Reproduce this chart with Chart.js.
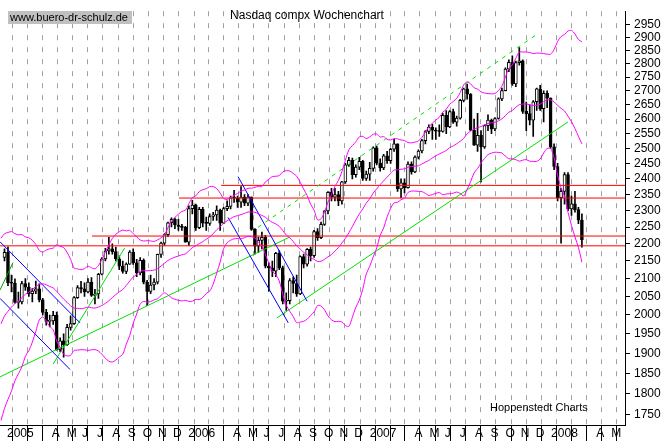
<!DOCTYPE html>
<html>
<head>
<meta charset="utf-8">
<script src="https://cdn.jsdelivr.net/npm/chart.js@4"></script>
<style>
  html, body { margin: 0; padding: 0; background: #fff; }
  #wrap { width: 671px; height: 441px; }
</style>
</head>
<body>
<div id="wrap"><canvas id="chart"></canvas></div>
<script>
// Weekly closes Aug 13 .. Dec 23 2004 (only used to warm up the Bollinger bands)
const closes2004 = [1757, 1838, 1862, 1844, 1894, 1910, 1880, 1942, 1919, 1911,
  1915, 1975, 2038, 2085, 2071, 2102, 2148, 2129, 2150, 2160];

// Weekly candles, first week ends Dec 31 2004, last week ends Mar 7 2008
const firstOpen = 2160;
const closes = [2175,
  2088, 2087, 2034, 2035, 2086, 2076, 2058, 2065, 2071, 2041, 2007, 1983, 1984,
  1999, 1909, 1932, 1922, 1967, 1977, 2047, 2075, 2071, 2063, 2090, 2053, 2057,
  2112, 2156, 2179, 2185, 2177, 2156, 2135, 2120, 2141, 2176, 2145, 2116, 2152,
  2090, 2064, 2082, 2090, 2169, 2202, 2227, 2263, 2273, 2256, 2252, 2249, 2205,
  2306, 2317, 2248, 2304, 2262, 2261, 2282, 2287, 2302, 2262, 2306, 2313, 2340,
  2339, 2326, 2342, 2323, 2342, 2243, 2193, 2210, 2219, 2135, 2130, 2121, 2172,
  2130, 2037, 2039, 2094, 2086, 2057, 2163, 2141, 2184, 2165, 2236, 2218, 2258,
  2299, 2357, 2342, 2350, 2330, 2390, 2445, 2460, 2413, 2438, 2457, 2401, 2415,
  2434, 2502, 2451, 2435, 2475, 2459, 2497, 2515, 2368, 2387, 2372, 2448, 2422,
  2471, 2491, 2526, 2557, 2572, 2562, 2558, 2557, 2613, 2573, 2626, 2589, 2603,
  2666, 2707, 2688, 2562, 2511, 2544, 2505, 2577, 2596, 2566, 2602, 2671, 2701,
  2780, 2805, 2725, 2804, 2811, 2627, 2619, 2596, 2661, 2707, 2636, 2691, 2674,
  2505, 2440, 2340, 2360, 2414, 2305, 2321, 2303, 2271, 2212];
const highs = [2185,
  2191, 2110, 2099, 2062, 2092, 2100, 2088, 2072, 2093, 2085, 2045, 2015, 2000,
  2010, 2008, 1940, 1950, 1975, 1998, 2050, 2080, 2092, 2088, 2100, 2103, 2070,
  2115, 2160, 2187, 2219, 2200, 2190, 2165, 2150, 2145, 2180, 2185, 2155, 2160,
  2156, 2095, 2110, 2100, 2170, 2205, 2230, 2265, 2278, 2277, 2273, 2258, 2252,
  2315, 2332, 2320, 2310, 2310, 2280, 2290, 2295, 2315, 2305, 2310, 2330, 2345,
  2363, 2345, 2375, 2350, 2350, 2343, 2245, 2220, 2235, 2225, 2145, 2150, 2175,
  2180, 2135, 2060, 2100, 2105, 2110, 2165, 2170, 2186, 2190, 2240, 2245, 2265,
  2300, 2359, 2370, 2370, 2360, 2392, 2450, 2470, 2468, 2445, 2470, 2460, 2425,
  2454, 2505, 2508, 2465, 2480, 2490, 2500, 2531, 2515, 2400, 2400, 2455, 2455,
  2475, 2495, 2530, 2560, 2580, 2582, 2570, 2580, 2620, 2630, 2630, 2635, 2610,
  2670, 2710, 2725, 2690, 2600, 2620, 2560, 2580, 2615, 2600, 2605, 2675, 2710,
  2785, 2815, 2830, 2810, 2861, 2815, 2660, 2650, 2665, 2710, 2720, 2700, 2700,
  2675, 2515, 2450, 2370, 2420, 2420, 2345, 2360, 2310, 2290];
const lows = [2150,
  2080, 2063, 2032, 2018, 2030, 2067, 2050, 2035, 2058, 2035, 2000, 1973, 1968,
  1975, 1908, 1904, 1890, 1920, 1960, 1975, 2045, 2060, 2050, 2060, 2050, 2030,
  2045, 2110, 2150, 2170, 2170, 2150, 2125, 2115, 2114, 2140, 2140, 2105, 2110,
  2085, 2025, 2058, 2068, 2085, 2160, 2195, 2222, 2250, 2245, 2240, 2240, 2205,
  2195, 2290, 2240, 2245, 2250, 2240, 2255, 2270, 2270, 2240, 2260, 2300, 2305,
  2325, 2310, 2310, 2315, 2315, 2240, 2170, 2175, 2185, 2130, 2065, 2105, 2105,
  2125, 2030, 2012, 2030, 2060, 2050, 2055, 2130, 2135, 2150, 2160, 2210, 2215,
  2255, 2290, 2330, 2330, 2315, 2320, 2385, 2440, 2400, 2405, 2430, 2395, 2395,
  2395, 2425, 2445, 2425, 2430, 2450, 2450, 2490, 2360, 2340, 2355, 2370, 2415,
  2420, 2465, 2485, 2515, 2550, 2530, 2530, 2540, 2555, 2550, 2570, 2585, 2575,
  2600, 2660, 2670, 2560, 2510, 2490, 2390, 2500, 2560, 2550, 2560, 2600, 2665,
  2700, 2770, 2720, 2715, 2795, 2620, 2560, 2580, 2540, 2630, 2630, 2590, 2640,
  2500, 2430, 2330, 2202, 2320, 2300, 2285, 2295, 2260, 2190];

// Support / resistance levels and where they start (days since Jan 1 2005)
const levels = [2379, 2339, 2223, 2194];
const levelStarts = [435, 350, 175, -10];

// Trend lines: [day1, value1, day2, value2]
const blueLines = [
  [-10, 2206, 151, 1979],
  [-10, 2045, 131, 1859],
  [469, 2407, 608, 2037],
  [449, 2279, 570, 1979]
];
const greenLines = [
  [-10, 2068, 16, 2145],
  [97, 1873, 241, 2188],
  [-10, 1841, 573, 2220],
  [547, 1992, 1133, 2590]
];
const dashedGreen = [509, 2249, 1073, 2916];

const yTicks = [1750, 1800, 1850, 1900, 1950, 2000, 2050, 2100, 2150, 2200, 2250,
  2300, 2350, 2400, 2450, 2500, 2550, 2600, 2650, 2700, 2750, 2800, 2850, 2900, 2950];
const monthLetters = ["", "F", "M", "A", "M", "J", "J", "A", "S", "O", "N", "D"];

// ---- derived stuff ----
const dayOf = (i) => -1 + 7 * i; // week i ends on Friday (Dec 31 2004 = day -1)
const opens = closes.map((c, i) => (i === 0 ? firstOpen : closes[i - 1]));

const wicks = closes.map((c, i) => ({ x: dayOf(i), y: [lows[i], highs[i]] }));
const bodies = closes.map((c, i) => ({ x: dayOf(i), y: [opens[i], c] }));
const bodyColors = closes.map((c, i) => (c >= opens[i] ? "#ffffff" : "#000000"));

// Bollinger bands 20 weeks, 2 sigma
const all = closes2004.concat(closes);
const mid = [], upper = [], lower = [];
for (let j = 19; j < all.length; j++) {
  const win = all.slice(j - 19, j + 1);
  const m = win.reduce((a, b) => a + b, 0) / 20;
  const sd = Math.sqrt(win.reduce((a, b) => a + (b - m) * (b - m), 0) / 20);
  const d = -1 + 7 * (j - closes2004.length);
  mid.push({ x: d, y: m });
  upper.push({ x: d, y: m + 2 * sd });
  lower.push({ x: d, y: m - 2 * sd });
}

function seg(l, color, dash) {
  return {
    type: "line",
    data: [{ x: l[0], y: l[1] }, { x: l[2], y: l[3] }],
    borderColor: color,
    borderWidth: 1,
    borderDash: dash || [],
    pointRadius: 0,
    order: 0,
  };
}
function band(data) {
  return {
    type: "line", data, borderColor: "#ff00ff", borderWidth: 1,
    pointRadius: 0, tension: 0.3, order: 0,
  };
}

const monthTicks = [];
for (let y = 2005; y <= 2008; y++) {
  for (let m = 0; m < 12; m++) {
    const d = (Date.UTC(y, m, 1) - Date.UTC(2005, 0, 1)) / 86400000;
    if (d > 1240) break;
    let label = m === 0 ? String(y) : monthLetters[m];
    if (m === 1 || m === 2) label = "";
    monthTicks.push({ value: d, label });
  }
}

const datasets = [
  { type: "bar", data: wicks, backgroundColor: "#000", borderWidth: 0,
    barThickness: 1, grouped: false, order: 2 },
  { type: "bar", data: bodies, backgroundColor: bodyColors, borderColor: "#000",
    borderWidth: 1, borderSkipped: false, barThickness: 3, minBarLength: 1,
    grouped: false, order: 1 },
  band(upper), band(mid), band(lower),
];
blueLines.forEach((l) => datasets.push(seg(l, "#0000ff")));
greenLines.forEach((l, k) => datasets.push(seg(l, k === 0 ? "#00a000" : "#00e000")));
datasets.push(seg(dashedGreen, "#00e000", [4, 5]));
levels.forEach((v, k) => datasets.push(seg([levelStarts[k], v, 1248, v], "#ff0000")));

const texts = {
  id: "texts",
  afterDraw(chart) {
    const c = chart.ctx;
    c.save();
    c.font = "11px 'Liberation Sans', Arial, sans-serif";
    c.fillStyle = "#c0c0c0";
    c.fillRect(8, 11, 124, 13);
    c.fillStyle = "#000";
    c.textBaseline = "middle";
    c.fillText("www.buero-dr-schulz.de", 10, 18);
    c.font = "12px 'Liberation Sans', Arial, sans-serif";
    c.textAlign = "center";
    c.fillText("Nasdaq compx Wochenchart", 307, 16);
    c.font = "11px 'Liberation Sans', Arial, sans-serif";
    c.textAlign = "left";
    c.fillText("Hoppenstedt Charts", 490, 408);
    c.restore();
  },
};

new Chart(document.getElementById("chart"), {
  type: "bar",
  data: { datasets },
  options: {
    responsive: true,
    maintainAspectRatio: false,
    animation: false,
    layout: { padding: 0 },
    plugins: { legend: { display: false }, tooltip: { enabled: false } },
    scales: {
      x: {
        type: "linear",
        min: -10.06,
        max: 1247.7,
        offset: false,
        afterBuildTicks: (s) => { s.ticks = monthTicks.map((t) => ({ value: t.value })); },
        afterFit: (s) => { s.height = 16; },
        ticks: {
          autoSkip: false,
          maxRotation: 0,
          align: "start",
          padding: -15,
          labelOffset: 2,
          color: "#000",
          font: { family: "'Liberation Sans', Arial, sans-serif", size: 12 },
          callback: (v) => {
            const t = monthTicks.find((m) => m.value === v);
            return t ? t.label : "";
          },
        },
        grid: {
          color: "#a0a0a0",
          tickColor: "#000",
          tickBorderDash: [],
          tickLength: 16,
        },
        border: { color: "#000", dash: [5, 7] },
      },
      y: {
        type: "logarithmic",
        position: "right",
        min: 1726,
        max: 3004,
        afterBuildTicks: (s) => { s.ticks = yTicks.map((v) => ({ value: v })); },
        afterFit: (s) => { s.width = 46; },
        ticks: {
          autoSkip: false,
          padding: 4,
          color: "#000",
          font: { family: "'Liberation Sans', Arial, sans-serif", size: 12 },
          callback: (v) => String(v),
        },
        grid: { drawOnChartArea: false, tickColor: "#000", tickLength: 5 },
        border: { color: "#000" },
      },
    },
  },
  plugins: [texts],
});
</script>
</body>
</html>
